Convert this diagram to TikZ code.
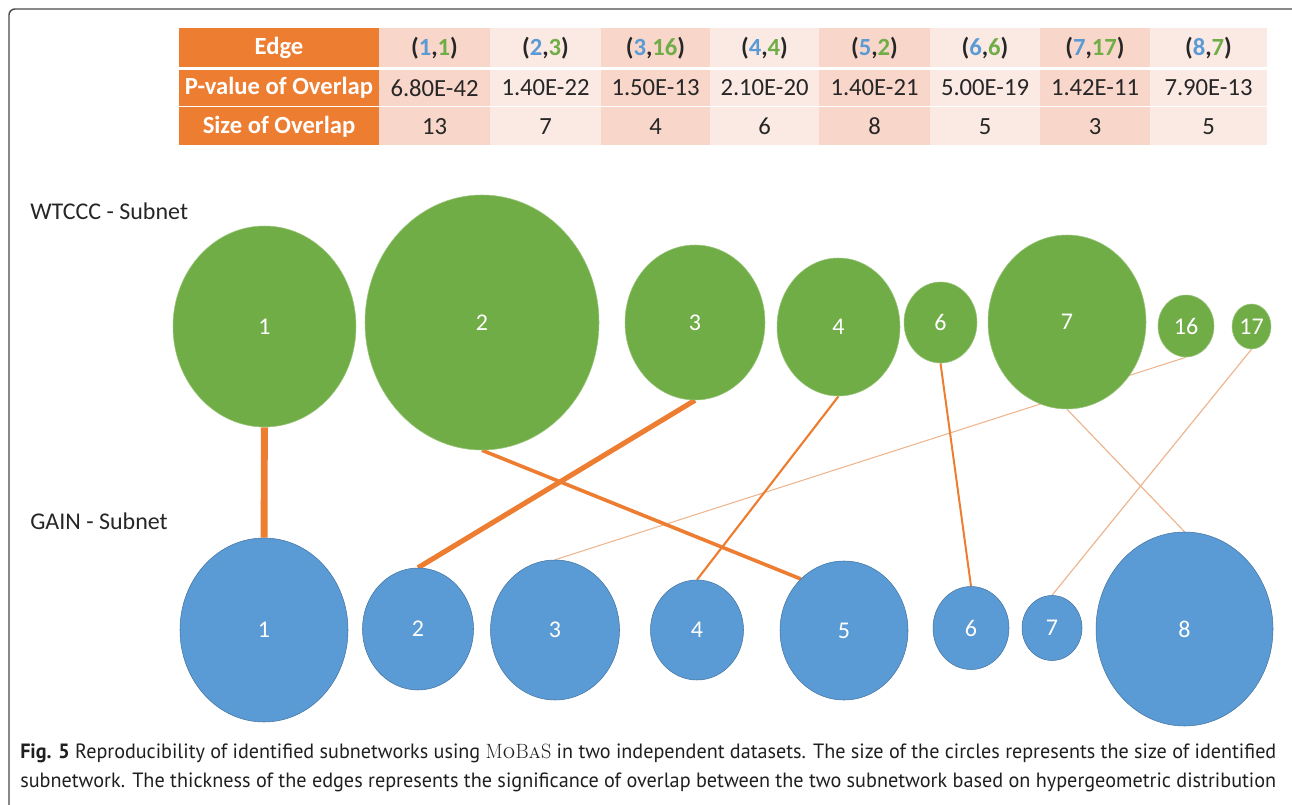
\documentclass[tikz,border=0pt]{standalone}
\usepackage{fontspec}
\usepackage{graphicx}
\newfontfamily\calibri{Carlito}
\newfontfamily\capfont{PT Sans}
\usetikzlibrary{shapes.geometric,backgrounds}

\definecolor{wtgreen}{HTML}{70AD47}
\definecolor{gainblue}{HTML}{5B9BD5}
\definecolor{hdorange}{HTML}{ED7D31}
\definecolor{banddark}{HTML}{F8D6CA}
\definecolor{bandlight}{HTML}{FBEAE4}
\definecolor{thinedge}{HTML}{EDB690}
\definecolor{framegrey}{HTML}{4A4A4A}

\tikzset{
	dims/.style 2 args={minimum width=(#1)*0.75pt, minimum height=(#2)*0.75pt},
	wtccc/.style={ellipse, fill=wtgreen, draw=wtgreen!70!white, line width=0.4pt, inner sep=0pt, text=white, font=\calibri\fontsize{18}{20}\selectfont},
	gain/.style={ellipse, fill=gainblue, draw=gainblue!75!black, line width=0.4pt, inner sep=0pt, text=white, font=\calibri\fontsize{18}{20}\selectfont},
	head cell/.style={rectangle, fill=hdorange, inner sep=0pt, text=white, font=\calibri\bfseries\fontsize{18.5}{20}\selectfont},
	cell/.style={rectangle, inner sep=0pt, text=black!85, font=\calibri\fontsize{18.5}{20}\selectfont},
	overlap/.style={draw=hdorange, line width=#1},
	weak/.style={draw=thinedge, line width=#1},
	subnet title/.style={anchor=base west, inner sep=0pt, text=black!85, font=\calibri\fontsize{18}{20}\selectfont},
}

\begin{document}
\begin{tikzpicture}[x=0.75pt, y=-0.75pt]
	\useasboundingbox (0,0) rectangle (1292,805);

	\draw[framegrey, line width=1.1pt, rounded corners=4.5pt] (1292,9) -- (9,9) -- (9,805);

	% table of overlaps
	\node[head cell, dims={200}{39}] (hedge) at (279,48) {Edge};
	\node[head cell, dims={200}{36}] (hpval) at (279,88) {P-value of Overlap};
	\node[head cell, dims={200}{38}] (hsize) at (279,126.5) {Size of Overlap};

	\foreach \i/\xl/\xr/\bl/\gr/\pv/\sz/\band in {
		1/379/490/1/1/6.80E-42/13/banddark,
		2/490/601/2/3/1.40E-22/7/bandlight,
		3/601/710/3/16/1.50E-13/4/banddark,
		4/710/819/4/4/2.10E-20/6/bandlight,
		5/819/930/5/2/1.40E-21/8/banddark,
		6/930/1040/6/6/5.00E-19/5/bandlight,
		7/1040/1150/7/17/1.42E-11/3/banddark,
		8/1150/1267/8/7/7.90E-13/5/bandlight}{
		\node[cell, fill=\band, dims={\xr-\xl}{39}] (edge\i) at ({(\xl+\xr)/2},48)
			{\bfseries(\textcolor{gainblue}{\bl},\textcolor{wtgreen}{\gr})};
		\node[cell, fill=\band, dims={\xr-\xl}{36}] (pval\i) at ({(\xl+\xr)/2},88) {\pv};
		\node[cell, fill=\band, dims={\xr-\xl}{38}] (size\i) at ({(\xl+\xr)/2},126.5) {\sz};
	}

	\node[subnet title] (wtitle) at (30,220) {WTCCC - Subnet};
	\node[subnet title] (gtitle) at (30,529) {GAIN - Subnet};

	% WTCCC subnetworks
	\node[wtccc, dims={183}{201}] (g1) at (264.5,326.5) {1};
	\node[wtccc, dims={234}{255}] (g2) at (482,322.5) {2};
	\node[wtccc, dims={140}{155}] (g3) at (695,322.5) {3};
	\node[wtccc, dims={123}{138}] (g4) at (838.5,327) {4};
	\node[wtccc, dims={73}{81}] (g6) at (940.5,322.5) {6};
	\node[wtccc, dims={158}{174}] (g7) at (1067,322) {7};
	\node[wtccc, dims={56}{62}] (g16) at (1186,326) {16};
	\node[wtccc, dims={39}{45}] (g17) at (1251.5,326.5) {17};

	% GAIN subnetworks
	\node[gain, dims={168}{184}] (b1) at (264,630) {1};
	\node[gain, dims={111}{122}] (b2) at (418,629) {2};
	\node[gain, dims={129}{140}] (b3) at (555,630) {3};
	\node[gain, dims={93}{100}] (b4) at (697,630) {4};
	\node[gain, dims={128}{139}] (b5) at (844,630.5) {5};
	\node[gain, dims={76}{83}] (b6) at (971,628) {6};
	\node[gain, dims={60}{65}] (b7) at (1052,628) {7};
	\node[gain, dims={177}{194}] (b8) at (1184.5,629) {8};

	% overlaps, thicker for smaller p-values
	\begin{scope}[on background layer]
		\draw[overlap=5.2pt] (g1) -- (b1);
		\draw[overlap=3.8pt] (g3.south) -- (b2.north);
		\draw[weak=0.8pt] (b3.north) -- (g16.south);
		\draw[overlap=1.6pt] (g4.south) -- (b4.north);
		\draw[overlap=2.7pt] (g2.south) -- (b5.130);
		\draw[overlap=1.5pt] (g6.south) -- (b6.north);
		\draw[weak=0.9pt] (b7.north) -- (g17.south);
		\draw[weak=0.9pt] (g7.south) -- (b8.north);
	\end{scope}

	\node[anchor=base west, inner sep=0pt, text=black!88, font=\capfont\fontsize{15.5}{18}\selectfont] (cap1) at (20,758)
		{\resizebox{942pt}{\height}{\textbf{Fig. 5} Reproducibility of identified subnetworks using {\rmfamily M\textsc{o}B\textsc{a}S} in two independent datasets. The size of the circles represents the size of identified}};
	\node[anchor=base west, inner sep=0pt, text=black!88, font=\capfont\fontsize{15.5}{18}\selectfont] (cap2) at (20,787)
		{\resizebox{942pt}{\height}{subnetwork. The thickness of the edges represents the significance of overlap between the two subnetwork based on hypergeometric distribution}};

\end{tikzpicture}
\end{document}
